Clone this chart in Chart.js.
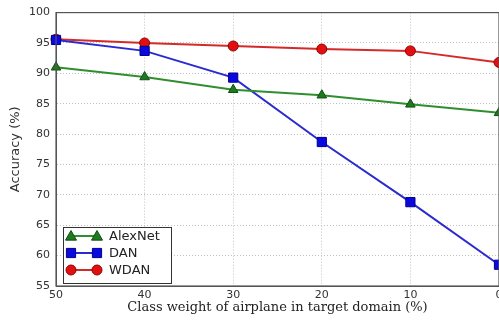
<!DOCTYPE html>
<html>
<head>
<meta charset="utf-8">
<script src="https://cdn.jsdelivr.net/npm/chart.js@4/dist/chart.umd.min.js"></script>
<style>
  html, body { margin: 0; padding: 0; background: #fff; overflow: hidden; }
  #wrap { width: 540px; height: 321px; }
</style>
</head>
<body>
<div id="wrap"><canvas id="c" width="540" height="321"></canvas></div>
<script>
// Class weight of airplane in the target domain (%), plotted from 50 down to 0
const weights = [50, 40, 30, 20, 10, 0];
// Accuracy (%) per method
const alexnet = [91.0, 89.4, 87.3, 86.4, 84.9, 83.5];
const dan     = [95.5, 93.7, 89.3, 78.7, 68.8, 58.5];
const wdan    = [95.6, 95.0, 94.5, 94.0, 93.7, 91.8];

const xTitle = 'Class weight of airplane in target domain (%)';
const yTitle = 'Accuracy (%)';

const series = [
  { label: 'AlexNet', values: alexnet, line: '#2f8f2f', fill: '#1f7a1f', edge: '#0f4f0f', shape: 'triangle', r: 5.5 },
  { label: 'DAN',     values: dan,     line: '#2a2ad0', fill: '#0a0ae0', edge: '#00008a', shape: 'rect',     r: 6.5 },
  { label: 'WDAN',    values: wdan,    line: '#d42a2a', fill: '#e01010', edge: '#9a0000', shape: 'circle',   r: 5 }
];

const datasets = series.map(s => ({
  label: s.label,
  data: weights.map((w, i) => ({ x: w, y: s.values[i] })),
  borderColor: s.line,
  borderWidth: 2,
  pointStyle: s.shape,
  pointRadius: s.r,
  pointBackgroundColor: s.fill,
  pointBorderColor: s.edge,
  pointBorderWidth: 1,
  tension: 0,
  clip: false,
  _shape: s.shape, _fill: s.fill, _edge: s.edge, _line: s.line
}));

function marker(ctx, shape, x, y, r, fill, edge) {
  ctx.save();
  ctx.fillStyle = fill; ctx.strokeStyle = edge; ctx.lineWidth = 1;
  ctx.beginPath();
  if (shape === 'triangle') {
    ctx.moveTo(x, y - r); ctx.lineTo(x + r, y + r * 0.75); ctx.lineTo(x - r, y + r * 0.75); ctx.closePath();
  } else if (shape === 'rect') {
    const h = r * Math.SQRT1_2; ctx.rect(x - h, y - h, 2 * h, 2 * h);
  } else {
    ctx.arc(x, y, r, 0, Math.PI * 2);
  }
  ctx.fill(); ctx.stroke();
  ctx.restore();
}

// Frame around the plotting area
const framePlugin = {
  id: 'frame',
  afterDatasetsDraw(chart) {
    const { ctx, chartArea: a } = chart;
    ctx.save();
    ctx.setLineDash([]);
    ctx.strokeStyle = '#555'; ctx.lineWidth = 1.2;
    ctx.strokeRect(a.left, a.top, a.right - a.left, a.bottom - a.top);
    ctx.restore();
  }
};

// Boxed legend in the lower-left corner, line sample with two markers
const boxLegend = {
  id: 'boxLegend',
  afterDraw(chart) {
    const { ctx, chartArea: a } = chart;
    const x0 = a.left + 7, y1 = a.bottom - 3, w = 108, h = 56, y0 = y1 - h;
    ctx.save();
    ctx.fillStyle = '#fff';
    ctx.fillRect(x0, y0, w, h);
    ctx.strokeStyle = '#333'; ctx.lineWidth = 1;
    ctx.strokeRect(x0 + 0.5, y0 + 0.5, w, h);
    ctx.font = '13px "DejaVu Sans"';
    ctx.textBaseline = 'middle';
    chart.data.datasets.forEach((d, i) => {
      const y = y0 + 9 + i * 17;
      const xa = x0 + 8, xb = x0 + 34;
      ctx.strokeStyle = d._line; ctx.lineWidth = 2;
      ctx.beginPath(); ctx.moveTo(xa, y); ctx.lineTo(xb, y); ctx.stroke();
      marker(ctx, d._shape, xa, y, d.pointRadius, d._fill, d._edge);
      marker(ctx, d._shape, xb, y, d.pointRadius, d._fill, d._edge);
      ctx.fillStyle = '#222';
      ctx.fillText(d.label, x0 + 46, y + 1);
    });
    ctx.restore();
  }
};

const gridStyle = { color: '#c0c0c0', lineWidth: 1, drawTicks: false };
const borderStyle = { display: true, color: '#555', width: 1, dash: [1, 2] };

new Chart(document.getElementById('c'), {
  type: 'line',
  data: { datasets },
  options: {
    responsive: false,
    animation: false,
    layout: { padding: { top: 6, right: 41, left: 0, bottom: 0 } },
    plugins: { legend: { display: false }, tooltip: { enabled: false } },
    scales: {
      x: {
        type: 'linear', reverse: true, min: 0, max: 50,
        afterFit(s) { s.height = 35; },
        grid: { ...gridStyle },
        border: { ...borderStyle },
        ticks: { stepSize: 10, padding: 3, color: '#333', font: { family: 'DejaVu Sans', size: 11 }, maxRotation: 0 },
        title: { display: true, text: xTitle, color: '#222', font: { family: 'DejaVu Serif', size: 13 }, padding: { top: 0, bottom: 6 } }
      },
      y: {
        min: 55, max: 100,
        afterFit(s) { s.width = 56; },
        grid: { ...gridStyle },
        border: { ...borderStyle },
        ticks: { stepSize: 5, padding: 6, color: '#333', font: { family: 'DejaVu Sans', size: 11 } },
        title: { display: true, text: yTitle, color: '#333', font: { family: 'DejaVu Sans', size: 13 }, padding: { top: 8, bottom: 0 } }
      }
    }
  },
  plugins: [framePlugin, boxLegend]
});
</script>
</body>
</html>
